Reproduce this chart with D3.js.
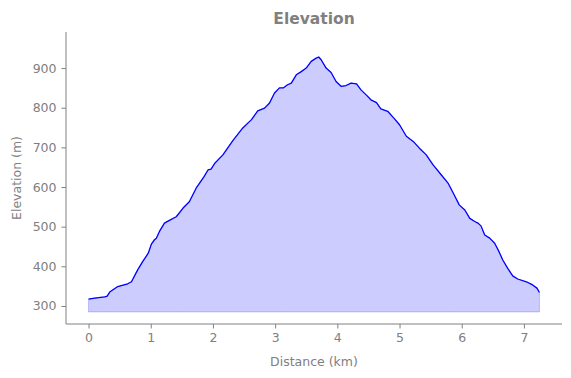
<!DOCTYPE html>
<html><head><meta charset="utf-8">
<script src="https://cdn.jsdelivr.net/npm/d3@7"></script>
<style>body{margin:0;background:#fff}svg{display:block}text{font-family:"DejaVu Sans",sans-serif}</style>
</head><body>
<script>
const distance = [0, 0.1, 0.26, 0.3, 0.34, 0.47, 0.63, 0.69, 0.79, 0.87, 0.96, 1.01, 1.06, 1.09, 1.14, 1.22, 1.3, 1.41, 1.52, 1.62, 1.73, 1.86, 1.92, 1.97, 2.03, 2.16, 2.32, 2.48, 2.62, 2.72, 2.83, 2.91, 2.99, 3.07, 3.13, 3.2, 3.26, 3.34, 3.42, 3.5, 3.58, 3.66, 3.7, 3.74, 3.82, 3.9, 3.98, 4.06, 4.14, 4.22, 4.31, 4.38, 4.46, 4.54, 4.63, 4.7, 4.81, 4.92, 5.0, 5.11, 5.22, 5.32, 5.43, 5.54, 5.67, 5.78, 5.88, 5.96, 6.05, 6.13, 6.21, 6.26, 6.31, 6.37, 6.45, 6.53, 6.6, 6.66, 6.74, 6.82, 6.9, 7.04, 7.14, 7.21, 7.25];
const elevation = [317, 320, 323, 325, 335, 349, 356, 361, 391, 412, 433, 456, 467, 471, 488, 509, 516, 525, 547, 563, 597, 627, 643, 645, 660, 681, 717, 749, 770, 792, 799, 812, 837, 850, 850, 858, 862, 883, 891, 900, 917, 925, 928, 921, 900, 889, 866, 854, 856, 862, 860, 845, 833, 820, 813, 797, 791, 772, 757, 728, 715, 698, 681, 656, 631, 610, 580, 555, 542, 521, 513, 509, 502, 479, 471, 458, 437, 416, 395, 376, 368, 361, 353, 345, 334];
const baseline = 285;
const xTicks = [0, 1, 2, 3, 4, 5, 6, 7];
const yTicks = [300, 400, 500, 600, 700, 800, 900];

const W = 571, H = 378;
const L = 66, R = 562, T = 32, B = 324;
const gray = "#808080";
const svg = d3.select("body").append("svg").attr("width", W).attr("height", H);
const x = d3.scaleLinear().domain([-0.3625, 7.6125]).range([L, R]);
const y = d3.scaleLinear().domain([254.5, 991]).range([B, T]);
const data = distance.map((d, i) => ({d, e: elevation[i]}));

svg.append("path").datum(data)
  .attr("d", d3.area().x(p => x(p.d)).y0(y(baseline)).y1(p => y(p.e)))
  .attr("fill", "rgba(0,0,255,0.2)").attr("stroke", "rgba(0,0,255,0.2)").attr("stroke-width", 1);
svg.append("path").datum(data)
  .attr("d", d3.line().x(p => x(p.d)).y(p => y(p.e)))
  .attr("fill", "none").attr("stroke", "#0000ff").attr("stroke-width", 1.3).attr("stroke-linejoin", "round");

const xa = svg.append("g").attr("transform", `translate(0,${B})`)
  .call(d3.axisBottom(x).tickValues(xTicks).tickFormat(d3.format("d")).tickSizeOuter(0).tickSize(4.5).tickPadding(5));
const ya = svg.append("g").attr("transform", `translate(${L},0)`)
  .call(d3.axisLeft(y).tickValues(yTicks).tickFormat(d3.format("d")).tickSizeOuter(0).tickSize(4.5).tickPadding(5));
[xa, ya].forEach(a => {
  a.select(".domain").attr("stroke", gray);
  a.selectAll(".tick line").attr("stroke", gray);
  a.selectAll(".tick text").attr("fill", gray).style("font-size", "12.5px").style("font-family", "DejaVu Sans");
});
xa.select(".domain").attr("d", `M${L},0H${R}`);
ya.select(".domain").attr("d", `M0,${T}V${B}`);

svg.append("text").attr("x", (L + R) / 2).attr("y", 24).attr("text-anchor", "middle")
  .attr("fill", gray).style("font-size", "15.5px").style("font-weight", "bold").text("Elevation");
svg.append("text").attr("x", (L + R) / 2).attr("y", 366).attr("text-anchor", "middle")
  .attr("fill", gray).style("font-size", "12.5px").text("Distance (km)");
svg.append("text").attr("transform", `translate(21,${(T + B) / 2}) rotate(-90)`).attr("text-anchor", "middle")
  .attr("fill", gray).style("font-size", "12.5px").text("Elevation (m)");
</script>
</body></html>
